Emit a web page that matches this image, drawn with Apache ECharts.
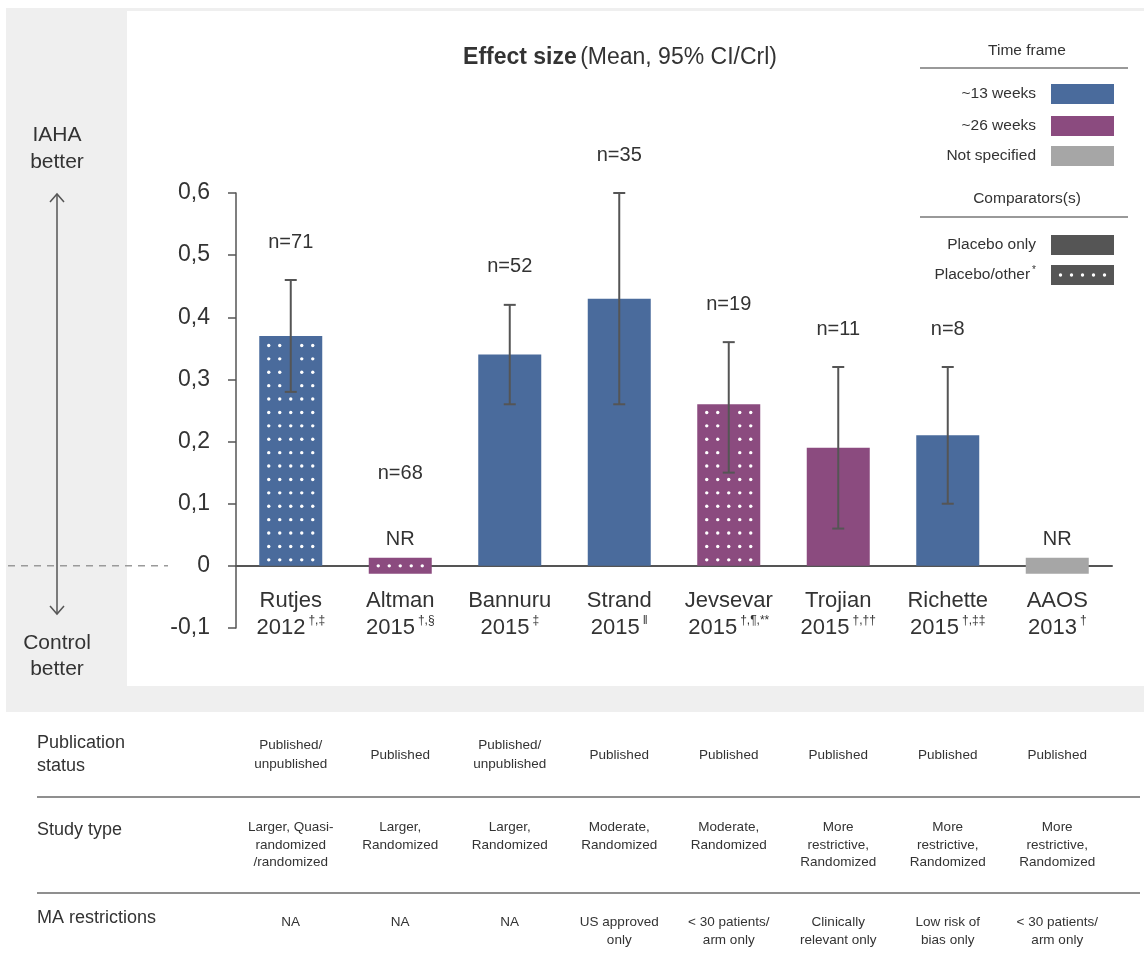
<!DOCTYPE html>
<html>
<head>
<meta charset="utf-8">
<script src="https://cdn.jsdelivr.net/npm/echarts@6/dist/echarts.min.js"></script>
<style>
  html, body { margin: 0; padding: 0; background: #ffffff; }
  #chart { width: 1144px; height: 969px; }
</style>
</head>
<body>
<div id="chart"></div>
<script>
// ---- Data -------------------------------------------------------------
const studies    = ['Rutjes', 'Altman', 'Bannuru', 'Strand', 'Jevsevar', 'Trojian', 'Richette', 'AAOS'];
const years      = ['2012', '2015', '2015', '2015', '2015', '2015', '2015', '2013'];
const footnotes  = ['†,‡', '†,§', '‡', '‖', '†,¶,**', '†,††', '†,‡‡', '†'];
const meanEffect = [0.37, null, 0.34, 0.43, 0.26, 0.19, 0.21, null];   // null = NR
const ciLower    = [0.28, null, 0.26, 0.26, 0.15, 0.06, 0.10, null];
const ciUpper    = [0.46, null, 0.42, 0.60, 0.36, 0.32, 0.32, null];
const sampleSize = ['n=71', 'n=68', 'n=52', 'n=35', 'n=19', 'n=11', 'n=8', ''];
const timeFrame  = ['13w', '26w', '13w', '13w', '26w', '26w', '13w', 'ns'];
const comparator = ['other', 'other', 'placebo', 'placebo', 'other', 'placebo', 'placebo', 'placebo'];
const yTickLabels = ['-0,1', '0', '0,1', '0,2', '0,3', '0,4', '0,5', '0,6'];

const tableRows = ['Publication\nstatus', 'Study type', 'MA restrictions'];
const pubStatus = ['Published/\nunpublished', 'Published', 'Published/\nunpublished', 'Published',
                   'Published', 'Published', 'Published', 'Published'];
const studyType = ['Larger, Quasi-\nrandomized\n/randomized', 'Larger,\nRandomized', 'Larger,\nRandomized',
                   'Moderate,\nRandomized', 'Moderate,\nRandomized', 'More\nrestrictive,\nRandomized',
                   'More\nrestrictive,\nRandomized', 'More\nrestrictive,\nRandomized'];
const maRestrict = ['NA', 'NA', 'NA', 'US approved\nonly', '< 30 patients/\narm only',
                    'Clinically\nrelevant only', 'Low risk of\nbias only', '< 30 patients/\narm only'];

// ---- Styles -----------------------------------------------------------
const FONT = "'Liberation Sans', Arial, Helvetica, sans-serif";
const COL = { '13w': '#4a6b9c', '26w': '#8b4b7f', 'ns': '#a6a6a6' };
const DARK = '#555555';
const TEXT = '#333333';
const PANEL = '#efefef';
const BAR_W = 63;

const chart = echarts.init(document.getElementById('chart'), null, { renderer: 'canvas' });

const option = {
  backgroundColor: '#ffffff',
  animation: false,
  grid: { left: 236, right: 32, top: 193, bottom: 341, containLabel: false },
  xAxis: {
    type: 'category',
    data: studies,
    axisLine: { onZero: true, lineStyle: { color: DARK, width: 2 } },
    axisTick: { show: false },
    axisLabel: {
      interval: 0,
      margin: -41,
      color: TEXT,
      formatter: (v, i) => `{nm|${v}}\n{yr|${years[i]}}{sup|${footnotes[i]}}`,
      rich: {
        nm:  { fontSize: 22, fontFamily: FONT, color: TEXT, lineHeight: 27 },
        yr:  { fontSize: 22, fontFamily: FONT, color: TEXT, lineHeight: 27 },
        sup: { fontSize: 12, fontFamily: FONT, color: TEXT, lineHeight: 27, verticalAlign: 'top', padding: [1, 0, 0, 3] }
      }
    }
  },
  yAxis: {
    type: 'value',
    min: -0.1,
    max: 0.6,
    interval: 0.1,
    axisLine: { show: true, lineStyle: { color: DARK, width: 1.5 } },
    axisTick: { show: true, length: 8, lineStyle: { color: DARK, width: 1.5 } },
    splitLine: { show: false },
    axisLabel: {
      margin: 26,
      fontSize: 23,
      fontFamily: FONT,
      color: TEXT,
      formatter: v => yTickLabels[Math.round((v + 0.1) * 10)]
    }
  },
  series: [
    // Mean effect bars
    {
      type: 'bar',
      barWidth: BAR_W,
      data: meanEffect.map((v, i) => v == null ? '-' : { value: v, itemStyle: { color: COL[timeFrame[i]] } }),
      z: 2
    },
    // NR placeholder strips centred on zero
    {
      type: 'custom',
      z: 3,
      data: meanEffect.map((v, i) => v == null ? [i, 0] : null).filter(d => d),
      renderItem: (params, api) => {
        const i = api.value(0);
        const p = api.coord([i, 0]);
        return {
          type: 'rect',
          shape: { x: p[0] - BAR_W / 2, y: p[1] - 8, width: BAR_W, height: 16 },
          style: { fill: COL[timeFrame[i]] }
        };
      }
    },
    // White dot pattern for "placebo/other" comparators
    {
      type: 'custom',
      z: 4,
      data: comparator.map((c, i) => c === 'other'
        ? [i, meanEffect[i] == null ? 0 : meanEffect[i], meanEffect[i] == null ? 1 : 0] : null).filter(d => d),
      renderItem: (params, api) => {
        const i = api.value(0);
        const base = api.coord([i, 0]);
        const ys = [];
        if (api.value(2) === 1) {
          ys.push(base[1]);
        } else {
          const top = api.coord([i, api.value(1)])[1];
          for (let y = base[1] - 6; y >= top + 5; y -= 13.4) ys.push(y);
        }
        // the centre column is hidden where the whisker runs over it
        let wTop = Infinity, wBot = -Infinity;
        if (ciLower[i] != null) {
          wTop = api.coord([i, ciUpper[i]])[1];
          wBot = api.coord([i, ciLower[i]])[1] + 3;
        }
        const children = [];
        ys.forEach(y => {
          [-22, -11, 0, 11, 22].forEach(dx => {
            if (dx === 0 && y >= wTop && y <= wBot) return;
            children.push({ type: 'circle', shape: { cx: base[0] + dx, cy: y, r: 1.7 }, style: { fill: '#ffffff' } });
          });
        });
        return { type: 'group', children };
      }
    },
    // 95% CI / CrI whiskers
    {
      type: 'custom',
      z: 5,
      data: ciLower.map((lo, i) => lo == null ? null : [i, lo, ciUpper[i]]).filter(d => d),
      renderItem: (params, api) => {
        const i = api.value(0);
        const lo = api.coord([i, api.value(1)]);
        const hi = api.coord([i, api.value(2)]);
        const w = 6;
        const st = { stroke: DARK, lineWidth: 2 };
        return {
          type: 'group',
          children: [
            { type: 'line', shape: { x1: lo[0], y1: lo[1], x2: hi[0], y2: hi[1] }, style: st },
            { type: 'line', shape: { x1: hi[0] - w, y1: hi[1], x2: hi[0] + w, y2: hi[1] }, style: st },
            { type: 'line', shape: { x1: lo[0] - w, y1: lo[1], x2: lo[0] + w, y2: lo[1] }, style: st }
          ]
        };
      }
    },
    // Sample size and NR labels
    {
      type: 'custom',
      z: 6,
      data: studies.map((s, i) => [i, ciUpper[i] == null ? 0 : ciUpper[i], ciUpper[i] == null ? 1 : 0]),
      renderItem: (params, api) => {
        const i = api.value(0);
        const p = api.coord([i, api.value(1)]);
        const nr = api.value(2) === 1;
        const txt = (text, y) => ({
          type: 'text',
          style: {
            text, x: p[0], y,
            fill: TEXT, fontSize: 20, fontFamily: FONT,
            align: 'center', verticalAlign: 'middle',
            textAlign: 'center', textVerticalAlign: 'middle'
          }
        });
        const children = [];
        if (nr) {
          children.push(txt('NR', p[1] - 26));
          if (sampleSize[i]) children.push(txt(sampleSize[i], p[1] - 92));
        } else {
          children.push(txt(sampleSize[i], p[1] - 38));
        }
        return { type: 'group', children };
      }
    }
  ]
};

chart.setOption(option);

// ---- Decorations, legend and study table ------------------------------
function t(text, x, y, size, opts = {}) {
  return {
    type: 'text',
    z: opts.z || 10,
    style: Object.assign({
      text, x, y,
      fill: TEXT, fontSize: size, fontFamily: FONT,
      align: opts.align || 'center', verticalAlign: opts.va || 'middle',
      textAlign: opts.align || 'center', textVerticalAlign: opts.va || 'middle'
    }, opts.style || {})
  };
}
function ln(x1, y1, x2, y2, stroke, lineWidth, dash) {
  return { type: 'line', z: 10, shape: { x1, y1, x2, y2 }, style: { stroke, lineWidth, lineDash: dash || null } };
}

const zeroY = chart.convertToPixel({ yAxisIndex: 0 }, 0);
const topY = chart.convertToPixel({ yAxisIndex: 0 }, 0.6);
const colX = studies.map((s, i) => chart.convertToPixel({ xAxisIndex: 0 }, i));

const g = [];
// panels
g.push({ type: 'rect', z: -10, shape: { x: 6, y: 8, width: 1138, height: 704 }, style: { fill: PANEL } });
g.push({ type: 'rect', z: -9, shape: { x: 127, y: 11, width: 1017, height: 675 }, style: { fill: '#ffffff' } });

// zero reference line in the side panel
g.push(ln(8, zeroY, 168, zeroY, '#9a9a9a', 1.5, [7, 6]));

// direction arrow
const ax = 57;
g.push(ln(ax, topY + 1, ax, 614, DARK, 1.5));
g.push({ type: 'polyline', z: 10, shape: { points: [[ax - 7, topY + 9], [ax, topY + 1], [ax + 7, topY + 9]] }, style: { stroke: DARK, lineWidth: 1.5, fill: null } });
g.push({ type: 'polyline', z: 10, shape: { points: [[ax - 7, 606], [ax, 614], [ax + 7, 606]] }, style: { stroke: DARK, lineWidth: 1.5, fill: null } });
g.push(t('IAHA', ax, 135, 21));
g.push(t('better', ax, 162, 21));
g.push(t('Control', ax, 643, 21));
g.push(t('better', ax, 669, 21));

// title
g.push({
  type: 'text', z: 10,
  style: {
    text: '{b|Effect size} {r|(Mean, 95% CI/Crl)}',
    x: 620, y: 58, align: 'center', verticalAlign: 'middle',
    textAlign: 'center', textVerticalAlign: 'middle',
    rich: {
      b: { fontSize: 23, fontWeight: 'bold', fontFamily: FONT, fill: TEXT, color: TEXT },
      r: { fontSize: 23, fontFamily: FONT, fill: TEXT, color: TEXT }
    }
  }
});

// legend
const LX = 1051, LW = 63, LH = 20, LTX = 1036;
g.push(t('Time frame', 1027, 51, 15.5));
g.push(ln(920, 68, 1128, 68, '#777777', 1.5));
[['~13 weeks', COL['13w'], 84], ['~26 weeks', COL['26w'], 116], ['Not specified', COL['ns'], 146]].forEach(([lab, c, y]) => {
  g.push(t(lab, LTX, y + LH / 2, 15.5, { align: 'right' }));
  g.push({ type: 'rect', z: 10, shape: { x: LX, y, width: LW, height: LH }, style: { fill: c } });
});
g.push(t('Comparators(s)', 1027, 199, 15.5));
g.push(ln(920, 217, 1128, 217, '#777777', 1.5));
g.push(t('Placebo only', LTX, 245, 15.5, { align: 'right' }));
g.push({ type: 'rect', z: 10, shape: { x: LX, y: 235, width: LW, height: LH }, style: { fill: DARK } });
g.push({
  type: 'text', z: 10,
  style: {
    text: '{a|Placebo/other}{s|*}', x: LTX, y: 275, align: 'right', verticalAlign: 'middle',
    textAlign: 'right', textVerticalAlign: 'middle',
    rich: {
      a: { fontSize: 15.5, fontFamily: FONT, fill: TEXT, color: TEXT, lineHeight: 20 },
      s: { fontSize: 10, fontFamily: FONT, fill: TEXT, color: TEXT, lineHeight: 20, verticalAlign: 'top', padding: [0, 0, 0, 2] }
    }
  }
});
g.push({ type: 'rect', z: 10, shape: { x: LX, y: 265, width: LW, height: LH }, style: { fill: DARK } });
[-22, -11, 0, 11, 22].forEach(dx => {
  g.push({ type: 'circle', z: 11, shape: { cx: LX + LW / 2 + dx, cy: 275, r: 1.7 }, style: { fill: '#ffffff' } });
});

// study table
g.push(t(tableRows[0], 37, 755, 18, { align: 'left', style: { lineHeight: 23 } }));
g.push(t(tableRows[1], 37, 830, 18, { align: 'left' }));
g.push(t(tableRows[2], 37, 918, 18, { align: 'left' }));
g.push(ln(37, 797, 1140, 797, '#8f8f8f', 2));
g.push(ln(37, 893, 1140, 893, '#8f8f8f', 2));
colX.forEach((x, i) => {
  g.push(t(pubStatus[i], x, 755, 13.5, { style: { lineHeight: 19 } }));
  g.push(t(studyType[i], x, 819, 13.5, { va: 'top', style: { lineHeight: 17.5 } }));
  g.push(t(maRestrict[i], x, 913, 13.5, { va: 'top', style: { lineHeight: 18 } }));
});

chart.setOption({ graphic: { elements: g } });
</script>
</body>
</html>
